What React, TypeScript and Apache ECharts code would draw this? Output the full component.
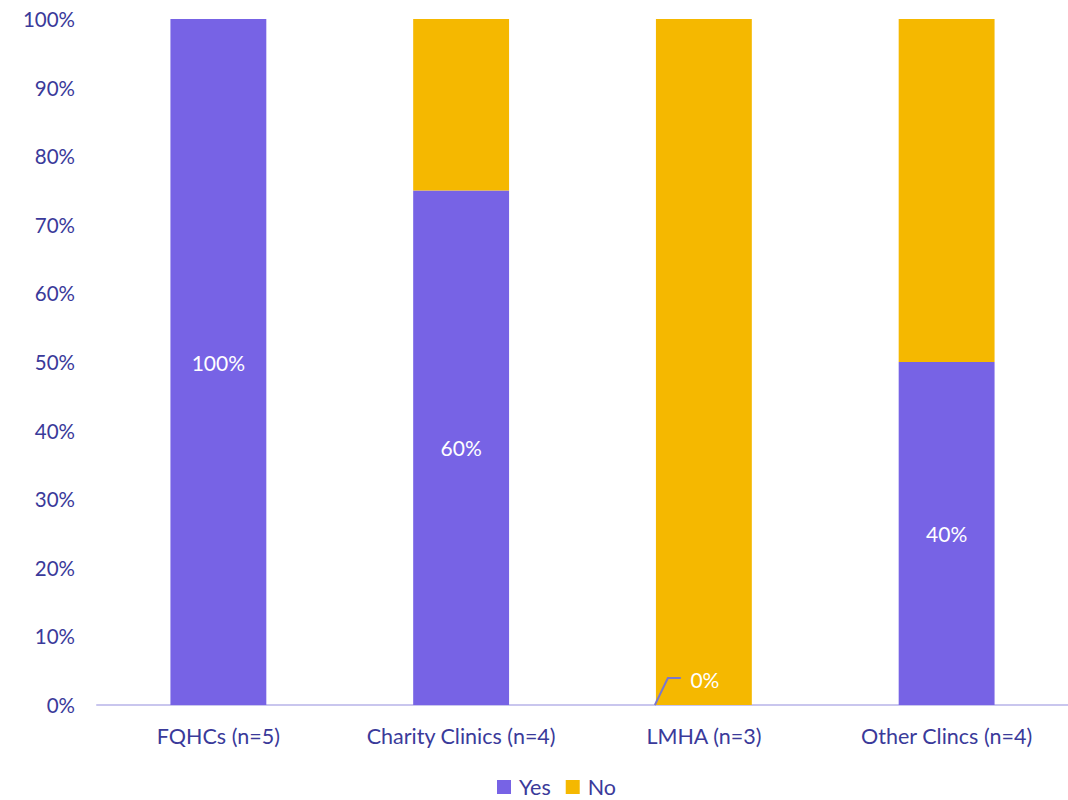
import React, { useEffect, useRef } from "react";
import * as echarts from "echarts";

const categories = ["FQHCs (n=5)", "Charity Clinics (n=4)", "LMHA (n=3)", "Other Clincs (n=4)"];
const yesValues = [100, 75, 0, 50];
const noValues = [0, 25, 100, 50];
const yesLabels = ["100%", "60%", "0%", "40%"];
const calloutIndex = 2;

const PURPLE = "#7763E5";
const YELLOW = "#F5B800";
const TEXT = "#3A3A9A";
const FONT = "Lato, 'Open Sans', sans-serif";

export default function App() {
  const ref = useRef<HTMLDivElement>(null);
  useEffect(() => {
    if (!ref.current) return;
    const chart = echarts.init(ref.current, undefined, { renderer: "svg" });
    chart.setOption({
      animation: false,
      textStyle: { fontFamily: FONT },
      grid: { left: 97, right: 0, top: 19, bottom: 95, containLabel: false },
      legend: {
        top: 771,
        left: 492,
        padding: 5,
        itemWidth: 14,
        itemHeight: 14,
        itemGap: 15,
        icon: "rect",
        textStyle: { color: TEXT, fontSize: 21.5, lineHeight: 20, fontFamily: FONT, padding: [0, 0, 0, 3] },
        data: ["Yes", "No"],
      },
      xAxis: {
        type: "category",
        data: categories,
        axisLine: { lineStyle: { color: "#C9C6EE", width: 2 } },
        axisTick: { show: false },
        axisLabel: { color: TEXT, fontSize: 21.5, margin: 20, fontFamily: FONT, interval: 0 },
      },
      yAxis: {
        type: "value",
        min: 0,
        max: 100,
        interval: 10,
        splitLine: { show: false },
        axisLine: { show: false },
        axisLabel: { color: TEXT, fontSize: 20.5, margin: 22, formatter: "{value}%", fontFamily: FONT },
      },
      series: [
        {
          name: "Yes",
          type: "bar",
          stack: "total",
          barWidth: "39.5%",
          itemStyle: { color: PURPLE },
          data: yesValues,
          label: {
            show: true,
            position: "inside",
            color: "#fff",
            fontSize: 21,
            fontFamily: FONT,
            formatter: (p: any) => (p.dataIndex === calloutIndex ? "" : yesLabels[p.dataIndex]),
          },
        },
        {
          name: "No",
          type: "bar",
          stack: "total",
          barWidth: "39.5%",
          itemStyle: { color: YELLOW },
          data: noValues,
        },
        {
          name: "callout",
          type: "custom",
          z: 5,
          silent: true,
          data: [[calloutIndex, yesValues[calloutIndex]]],
          renderItem: (params: any, api: any) => {
            const pt = api.coord([api.value(0), api.value(1)]);
            return {
              type: "group",
              children: [
                {
                  type: "polyline",
                  shape: {
                    points: [
                      [pt[0] - 49, pt[1]],
                      [pt[0] - 36, pt[1] - 27],
                      [pt[0] - 23, pt[1] - 27],
                    ],
                  },
                  style: { stroke: "#7B77CC", lineWidth: 2, fill: "none" },
                },
                {
                  type: "text",
                  x: pt[0] + 1,
                  y: pt[1] - 26,
                  style: {
                    text: yesLabels[calloutIndex],
                    fill: "#fff",
                    fontSize: 21,
                    fontFamily: FONT,
                    align: "center",
                    verticalAlign: "middle",
                  },
                },
              ],
            };
          },
        },
      ],
    });
    return () => chart.dispose();
  }, []);
  return <div ref={ref} style={{ position: "absolute", left: 0, top: 0, width: 1068, height: 800 }} />;
}
